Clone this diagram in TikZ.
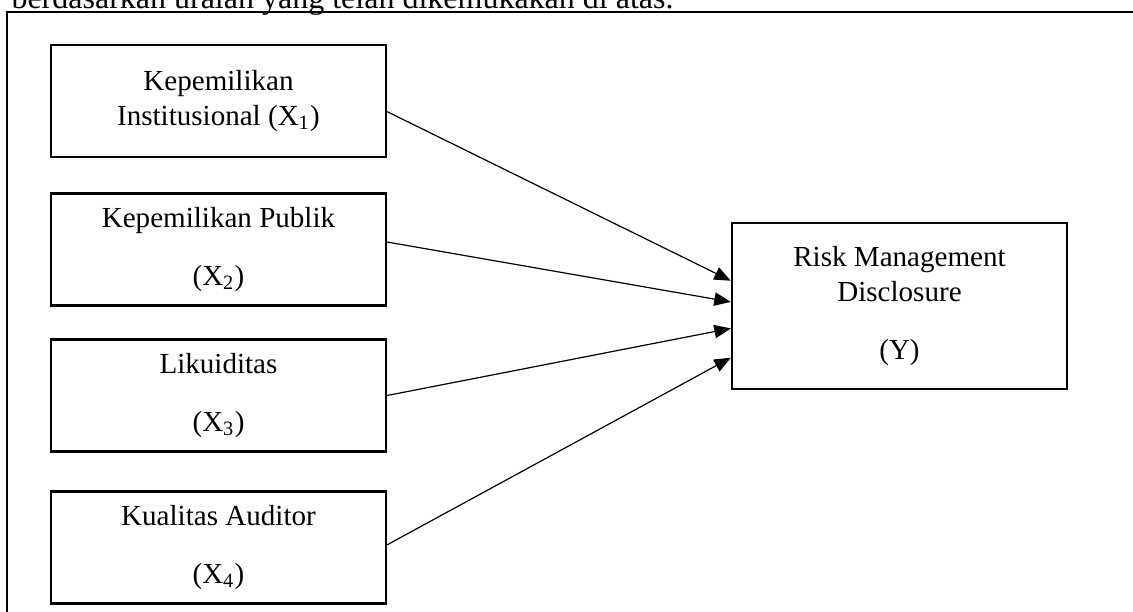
\documentclass[tikz,border=0pt]{standalone}
\usepackage{fontspec}
\setmainfont{Liberation Serif}
\usetikzlibrary{arrows.meta,positioning,calc}

\begin{document}
\begin{tikzpicture}[x=0.375pt,y=-0.375pt,
    varbox/.style={draw,line width=0.9pt,minimum width=125.6pt,minimum height=42pt,
        align=center,inner sep=0pt,font=\fontsize{10.9}{13.1}\selectfont},
    link/.style={-{Triangle[length=6.2pt,width=5pt]},line width=0.45pt}]
    \useasboundingbox (0,0) rectangle (1133,612);
    \clip (0,0) rectangle (1133,612);
    \draw[line width=0.55pt] (7,640) -- (7,12) -- (1160,12);
    \node[anchor=base west,inner sep=0pt,font=\fontsize{12}{14}\selectfont] (intro) at (11,8.5)
        {berdasarkan uraian yang telah dikemukakan di atas.};
    \node[varbox] (kinst) at (218.5,101) {Kepemilikan\\Institusional (X\textsubscript{1})};
    \node[varbox] (kpub) at (218.5,249.5) {Kepemilikan Publik\\[8.6pt](X\textsubscript{2})};
    \node[varbox] (likuid) at (218.5,395.5) {Likuiditas\\[8.6pt](X\textsubscript{3})};
    \node[varbox] (kual) at (218.5,547.5) {Kualitas Auditor\\[8.6pt](X\textsubscript{4})};
    \node[varbox,minimum height=62.25pt] (rmd) at (899.5,306) {Risk Management\\Disclosure\\[8.6pt](Y)};
    \draw[link] ([yshift=-4pt]kinst.east) -- ($(rmd.north west)!0.35!(rmd.south west)$);
    \draw[link] ([yshift=2.8pt]kpub.east) -- ($(rmd.north west)!0.476!(rmd.south west)$);
    \draw[link] (likuid.east) -- ($(rmd.north west)!0.633!(rmd.south west)$);
    \draw[link] ([yshift=1pt]kual.east) -- ($(rmd.north west)!0.807!(rmd.south west)$);
\end{tikzpicture}
\end{document}
